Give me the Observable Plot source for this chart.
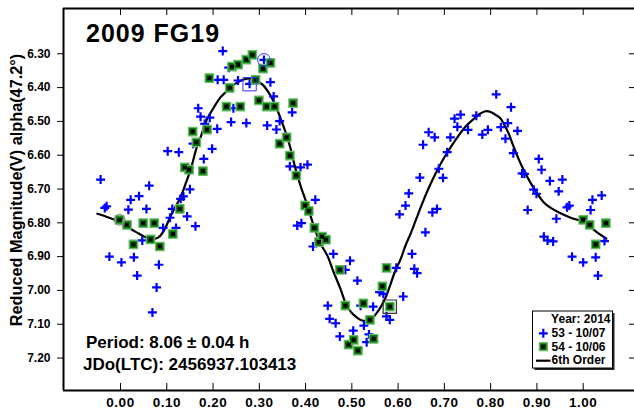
<!DOCTYPE html>
<html><head><meta charset="utf-8">
<script src="https://cdn.jsdelivr.net/npm/d3@7"></script>
<script src="https://cdn.jsdelivr.net/npm/@observablehq/plot@0.6"></script>
<style>
body{margin:0;background:#fff;}
#wrap{position:relative;width:634px;height:409px;overflow:hidden;}
#wrap svg{display:block;}
#overlay{position:absolute;left:0;top:0;pointer-events:none;}
g[aria-label="x-axis tick label"] text{letter-spacing:0.5px;}
</style></head><body><div id="wrap"></div>
<script>
// ---- data ----
const blue53Phase = [-0.043,-0.034,-0.030,-0.024,0.002,0.017,0.022,0.029,0.036,0.040,0.047,0.056,0.062,0.069,0.078,0.083,0.092,0.102,0.107,0.112,0.120,0.126,0.130,0.136,0.144,0.150,0.157,0.162,0.168,0.173,0.180,0.182,0.193,0.198,0.209,0.210,0.221,0.223,0.234,0.239,0.244,0.254,0.272,0.279,0.310,0.317,0.324,0.331,0.337,0.344,0.359,0.366,0.371,0.382,0.389,0.391,0.404,0.416,0.421,0.448,0.452,0.460,0.465,0.474,0.486,0.496,0.503,0.512,0.519,0.526,0.532,0.537,0.546,0.560,0.568,0.575,0.582,0.596,0.603,0.611,0.616,0.623,0.630,0.635,0.641,0.647,0.654,0.659,0.666,0.674,0.679,0.684,0.688,0.697,0.706,0.713,0.722,0.728,0.735,0.751,0.769,0.782,0.794,0.812,0.822,0.832,0.837,0.844,0.849,0.858,0.868,0.873,0.880,0.893,0.899,0.904,0.910,0.915,0.923,0.928,0.935,0.942,0.947,0.955,0.965,0.970,0.976,1.000,1.016,1.020,1.027,1.032,1.040,1.046];
const blue53Mag = [6.672,6.756,6.751,6.900,6.917,6.761,6.732,6.902,6.956,6.721,6.852,6.759,6.690,7.065,6.991,6.924,6.815,6.588,6.785,6.759,6.815,6.591,6.729,6.722,6.781,6.701,6.566,6.810,6.461,6.486,6.611,6.507,6.489,6.581,6.522,6.377,6.292,6.377,6.341,6.502,6.461,6.379,6.505,6.389,6.318,6.512,6.384,6.426,6.524,6.499,6.547,6.633,6.473,6.808,6.636,6.801,6.628,6.870,6.732,7.045,7.084,6.892,7.097,7.136,6.939,6.912,7.119,6.971,7.045,7.104,7.153,7.130,7.048,7.005,7.010,7.077,7.087,6.933,6.775,7.018,6.749,6.713,6.892,6.936,6.949,6.666,6.569,6.828,6.532,6.769,6.547,6.759,6.640,6.667,6.591,6.547,6.492,6.516,6.480,6.525,6.483,6.539,6.525,6.420,6.517,6.551,6.505,6.458,6.594,6.528,6.654,6.655,6.762,6.702,6.714,6.611,6.643,6.841,6.852,6.676,6.855,6.788,6.707,6.672,6.754,6.749,6.900,6.917,6.762,6.732,6.902,6.956,6.719,6.854];

const green54Phase = [-0.002,0.014,0.028,0.049,0.065,0.073,0.085,0.113,0.128,0.139,0.148,0.156,0.164,0.178,0.187,0.192,0.229,0.236,0.241,0.254,0.259,0.272,0.285,0.292,0.299,0.308,0.316,0.324,0.333,0.344,0.359,0.366,0.373,0.380,0.399,0.407,0.419,0.429,0.436,0.444,0.474,0.486,0.493,0.504,0.513,0.525,0.539,0.547,0.566,0.575,0.582,1.000,1.014,1.027,1.049];
const green54Mag = [6.791,6.806,6.864,6.801,6.849,6.801,6.870,6.833,6.759,6.636,6.643,6.530,6.562,6.647,6.524,6.372,6.456,6.401,6.338,6.332,6.456,6.317,6.303,6.377,6.438,6.344,6.456,6.327,6.456,6.566,6.547,6.601,6.446,6.660,6.749,6.765,6.815,6.857,6.841,6.850,6.939,7.045,7.160,7.146,7.178,7.038,7.087,7.143,6.988,6.933,7.048,6.791,6.806,6.864,6.801];

const fitPhase = [-0.050,-0.026,0.000,0.032,0.065,0.082,0.095,0.107,0.119,0.130,0.140,0.151,0.166,0.173,0.187,0.202,0.216,0.231,0.245,0.262,0.277,0.292,0.307,0.320,0.333,0.346,0.357,0.367,0.378,0.389,0.404,0.418,0.432,0.447,0.461,0.475,0.486,0.497,0.508,0.522,0.540,0.553,0.562,0.573,0.584,0.594,0.605,0.616,0.627,0.638,0.652,0.670,0.692,0.709,0.728,0.746,0.764,0.776,0.789,0.800,0.810,0.821,0.828,0.839,0.850,0.860,0.872,0.886,0.901,0.915,0.929,0.951,0.973,1.001,1.030,1.050];
const fitMag = [6.773,6.784,6.799,6.826,6.848,6.843,6.820,6.784,6.752,6.724,6.687,6.645,6.571,6.547,6.494,6.458,6.429,6.409,6.391,6.378,6.373,6.378,6.391,6.414,6.447,6.491,6.533,6.577,6.639,6.690,6.749,6.811,6.861,6.897,6.947,6.994,7.036,7.062,7.077,7.089,7.087,7.068,7.050,7.021,6.980,6.941,6.909,6.867,6.832,6.793,6.743,6.685,6.625,6.586,6.547,6.515,6.492,6.478,6.470,6.472,6.480,6.491,6.506,6.536,6.576,6.610,6.645,6.681,6.714,6.740,6.755,6.772,6.785,6.798,6.828,6.847];

// highlighted observations (rings / boxes in the original)
const grayCirclePhase = [-0.002], grayCircleMag = [6.791];
const blueCirclePhase = [0.310], blueCircleMag = [6.318];
const blueBoxPhase = [0.279], blueBoxMag = [6.390];
const grayBoxPhase = [0.582], grayBoxMag = [7.048];

const xTicks = [0.0,0.1,0.2,0.3,0.4,0.5,0.6,0.7,0.8,0.9,1.0];
const yTicks = [6.3,6.4,6.5,6.6,6.7,6.8,6.9,7.0,7.1,7.2];
const xDomain = [-0.1232, 1.1109];
const yDomain = [7.296, 6.166];

const titleText = "2009 FG19";
const yLabel = "Reduced Magnitude(V) alpha(47.2°)";
const periodText = "Period: 8.06 ± 0.04 h";
const jdText = "JDo(LTC): 2456937.103413";
const legendTitle = "Year: 2014";
const legendNames = ["53 - 10/07", "54 - 10/06", "6th Order"];

// ---- build ----
const zip = (a, b) => a.map((p, i) => ({phase: p, mag: b[i]}));
const blue = zip(blue53Phase, blue53Mag);
const green = zip(green54Phase, green54Mag);
const fit = zip(fitPhase, fitMag);

const font = "'Liberation Sans', Arial, Helvetica, sans-serif";
const W = 634, H = 409;

const chart = Plot.plot({
  width: W, height: H,
  marginLeft: 63, marginRight: 0, marginTop: 8, marginBottom: 19,
  x: {domain: xDomain, axis: null},
  y: {domain: yDomain, axis: null},
  style: {fontFamily: font, fontWeight: "bold", background: "white", color: "black"},
  marks: [
    Plot.line(fit, {x: "phase", y: "mag", stroke: "black", strokeWidth: 2.2, curve: "catmull-rom"}),
    Plot.dot(blue, {x: "phase", y: "mag", symbol: "plus", r: 3.0, stroke: "#0000ff", strokeWidth: 2.2}),
    Plot.dot(green, {x: "phase", y: "mag", symbol: "square", r: 4.8, fill: "#0e7a0e", stroke: "#6abb6a", strokeWidth: 1.2}),
    Plot.dot(green, {x: "phase", y: "mag", symbol: "square", r: 2.3, fill: "black"}),
    Plot.dot(zip(grayCirclePhase, grayCircleMag), {x: "phase", y: "mag", r: 5.5, stroke: "#888", strokeWidth: 1}),
    Plot.dot(zip(blueCirclePhase, blueCircleMag), {x: "phase", y: "mag", r: 6.3, stroke: "#3030ff", strokeWidth: 1}),
    Plot.dot(zip(blueBoxPhase, blueBoxMag), {x: "phase", y: "mag", symbol: "square", r: 7.5, fill: "none", stroke: "#3030ff", strokeWidth: 1}),
    Plot.dot(zip(grayBoxPhase, grayBoxMag), {x: "phase", y: "mag", symbol: "square", r: 7.5, fill: "none", stroke: "#333", strokeWidth: 1.2}),
    Plot.axisY(yTicks, {tickSize: 6, tickPadding: 7, tickFormat: d3.format(".2f"), fontSize: 12, fontWeight: "bold", label: null}),
    Plot.axisX(xTicks, {tickSize: 0, tickPadding: 7, tickFormat: d3.format(".2f"), fontSize: 13.5, fontWeight: "bold", label: null}),
    Plot.tickX(xTicks, {x: d => d, insetTop: 375, stroke: "black", strokeWidth: 1}),
    Plot.tickX(xTicks, {x: d => d, insetBottom: 375, stroke: "black", strokeWidth: 1}),
    Plot.tickY(yTicks, {y: d => d, insetLeft: 566, stroke: "black", strokeWidth: 1}),
    Plot.ruleX([xDomain[0]], {stroke: "black", strokeWidth: 2}),
    Plot.ruleY(yDomain, {stroke: "black", strokeWidth: 2})
  ]
});
const wrap = document.getElementById("wrap");
wrap.appendChild(chart);

// ---- overlay texts and legend ----
const ov = d3.select(wrap).append("svg").attr("id", "overlay")
  .attr("width", W).attr("height", H)
  .style("font-family", font).style("font-weight", "bold");

ov.append("text").attr("x", 86).attr("y", 41.7).attr("font-size", 25)
  .attr("letter-spacing", 1).text(titleText);
ov.append("text").attr("x", 86).attr("y", 347.5).attr("font-size", 17).text(periodText);
ov.append("text").attr("x", 83).attr("y", 370).attr("font-size", 17).text(jdText);
ov.append("text").attr("transform", "translate(22,190) rotate(-90)")
  .attr("text-anchor", "middle").attr("font-size", 16.3).text(yLabel);

const lg = ov.append("g");
lg.append("rect").attr("x", 534.5).attr("y", 313).attr("width", 80).attr("height", 57).attr("fill", "#222");
lg.append("rect").attr("x", 532.5).attr("y", 311).attr("width", 80).attr("height", 57)
  .attr("fill", "white").attr("stroke", "black").attr("stroke-width", 1);
lg.append("text").attr("x", 610.5).attr("y", 322.7).attr("text-anchor", "end").attr("font-size", 12).text(legendTitle);
const rowsY = [336.7, 350.7, 364.3];
legendNames.forEach((n, i) => {
  lg.append("text").attr("x", 551.5).attr("y", rowsY[i]).attr("font-size", 12).text(n);
});
lg.append("path").attr("d", d3.symbol(d3.symbolPlus, 28)()).attr("transform", "translate(543.3,333.3)")
  .attr("fill", "none").attr("stroke", "#0000ff").attr("stroke-width", 2.2);
lg.append("rect").attr("x", 539.3).attr("y", 342.7).attr("width", 8).attr("height", 8)
  .attr("fill", "#0e7a0e").attr("stroke", "#6abb6a").attr("stroke-width", 1.2);
lg.append("rect").attr("x", 541.3).attr("y", 344.7).attr("width", 4).attr("height", 4).attr("fill", "black");
lg.append("line").attr("x1", 536).attr("x2", 550.5).attr("y1", 360.7).attr("y2", 360.7)
  .attr("stroke", "black").attr("stroke-width", 2.2);
</script>
</body></html>
